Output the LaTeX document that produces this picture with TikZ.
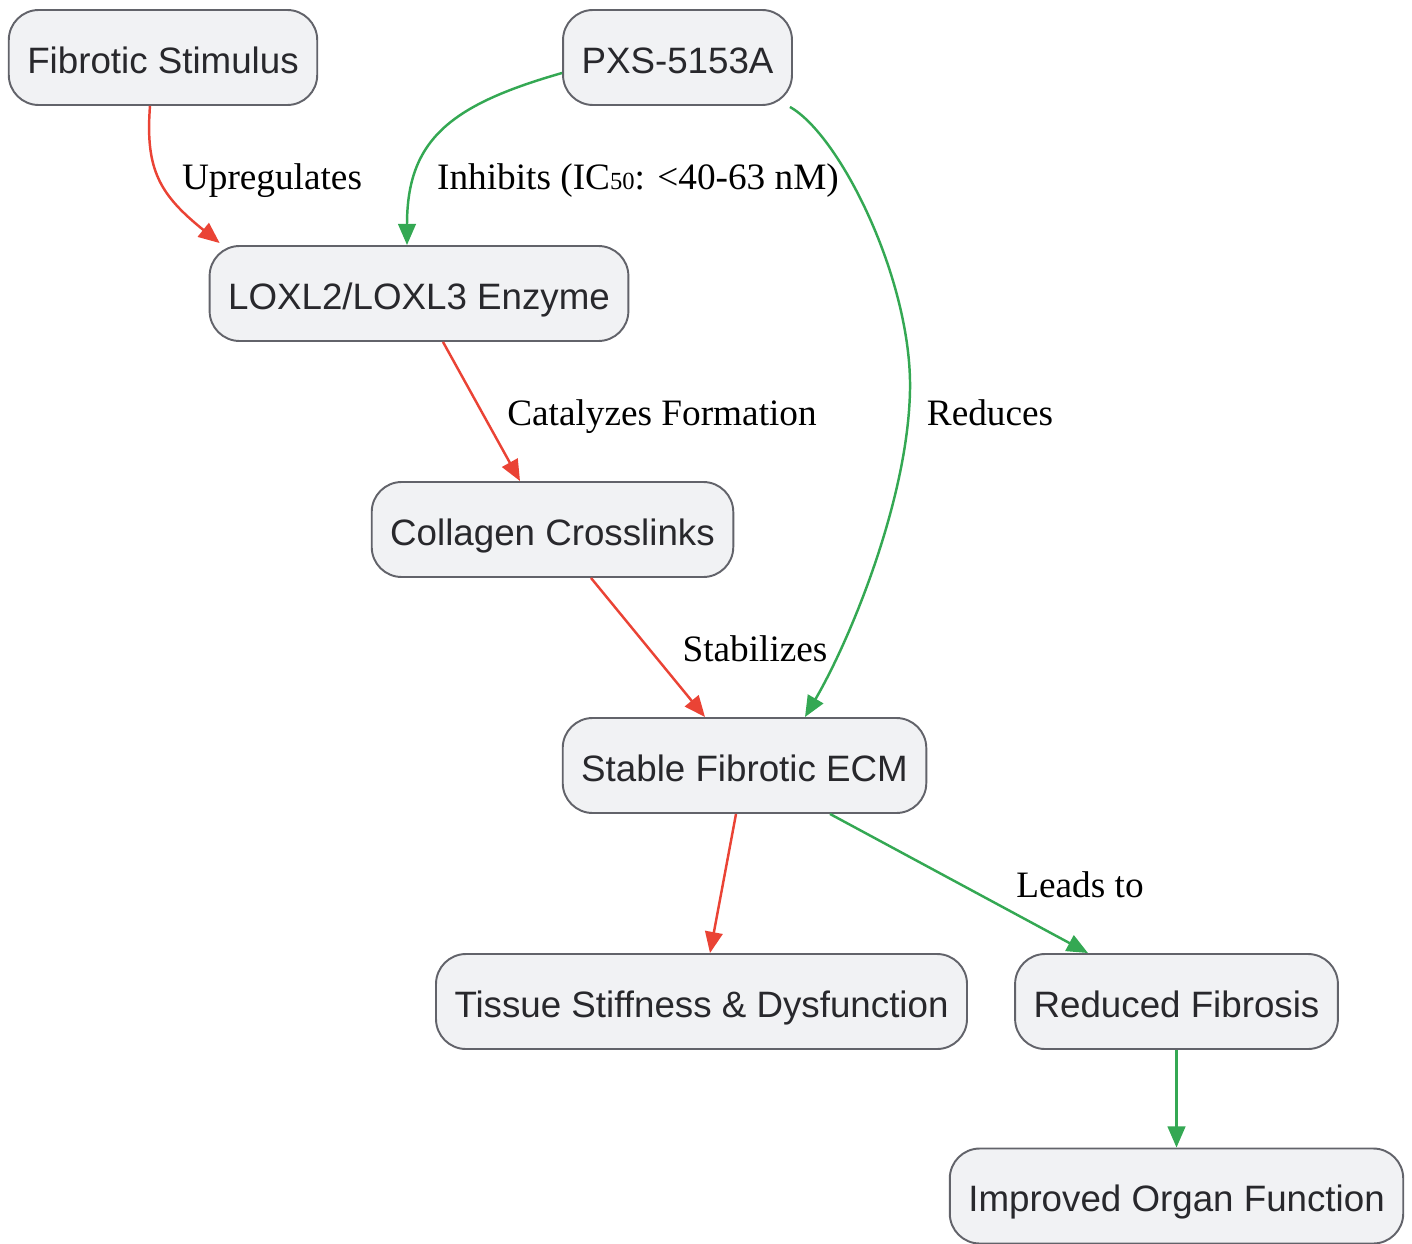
\documentclass[tikz,border=0pt]{standalone}
\usepackage{fontspec}
\setmainfont{Liberation Serif}
\newfontfamily\boxfont{Liberation Sans}
\usepackage{tikz}
\usetikzlibrary{arrows.meta,positioning,calc}
\definecolor{boxFill}{RGB}{241,242,244}
\definecolor{boxLine}{RGB}{98,99,106}
\definecolor{boxText}{RGB}{40,40,44}
\definecolor{upC}{RGB}{234,67,53}
\definecolor{downC}{RGB}{52,168,83}
\tikzset{
    box/.style   = {draw=boxLine, line width=1.1pt, fill=boxFill,
            rounded corners=0.6cm, minimum height=1.9cm,
            inner xsep=0.37cm, align=center, text=boxText,
            text height=21pt, text depth=3pt,
            font=\boxfont\fontsize{20.9}{25}\selectfont},
    edgeLabel/.style = {inner sep=0pt, text=black,
            text height=14pt, text depth=0pt,
            font=\fontsize{21.2}{25}\selectfont},
    upArrow/.style   = {-{Triangle[length=12pt,width=10pt]}, line width=1.4pt, draw=upC},
    downArrow/.style = {-{Triangle[length=12pt,width=10pt]}, line width=1.4pt, draw=downC},
}
\newcommand{\sub}[1]{{\fontsize{14}{14}\selectfont #1}}
\begin{document}
\begin{tikzpicture}
    \useasboundingbox (0,0) rectangle (28.24,-24.86);

    % boxes
    \node[box] (fibStim)  at (3.26,-1.15)   {Fibrotic Stimulus};
    \node[box] (pxs)      at (13.55,-1.15)  {PXS-5153A};
    \node[box] (loxl)     at (8.38,-5.87)   {LOXL2/LOXL3 Enzyme};
    \node[box] (collagen) at (11.05,-10.59) {Collagen Crosslinks};
    \node[box] (ecm)      at (14.89,-15.31) {Stable Fibrotic ECM};
    \node[box] (tissue)   at (14.03,-20.03) {Tissue Stiffness \& Dysfunction};
    \node[box] (reduced)  at (23.53,-20.03) {Reduced Fibrosis};
    \node[box] (improved) at (23.53,-23.92) {Improved Organ Function};

    % connectors
    \draw[upArrow] ($(fibStim.south)+(-0.26,0)$)
        .. controls (2.90,-3.40) and (3.20,-3.90) .. ($(loxl.north west)+(0.22,0.04)$);
    \draw[downArrow] ($(pxs.west)+(0,-0.31)$)
        .. controls (9.00,-2.10) and (8.14,-2.80) .. ($(loxl.north)+(-0.24,0)$);
    \draw[downArrow] ($(pxs.south east)+(-0.06,-0.02)$)
        .. controls (16.80,-2.70) and (18.24,-5.60) .. (18.20,-7.80)
        .. controls (18.16,-10.00) and (17.00,-12.80) .. ($(ecm.north)+(1.21,0)$);
    \draw[upArrow] ($(loxl.south)+(0.48,0)$) -- ($(collagen.north)+(-0.65,0)$);
    \draw[upArrow] ($(collagen.south)+(0.77,0)$) -- ($(ecm.north)+(-0.79,0)$);
    \draw[upArrow] ($(ecm.south)+(-0.17,0)$) -- ($(tissue.north)+(0.17,0)$);
    \draw[downArrow] ($(ecm.south)+(1.71,0)$) -- ($(reduced.north)+(-1.77,0)$);
    \draw[downArrow] (reduced.south) -- (improved.north);

    % labels
    \node[edgeLabel] (lblUp)    at (5.44,-3.54)  {Upregulates};
    \node[edgeLabel] (lblInh)   at (12.76,-3.54) {Inhibits (IC\sub{50}: <40-63 nM)};
    \node[edgeLabel] (lblCat)   at (13.24,-8.26) {Catalyzes Formation};
    \node[edgeLabel] (lblRed)   at (19.80,-8.26) {Reduces};
    \node[edgeLabel] (lblStab)  at (15.10,-12.98) {Stabilizes};
    \node[edgeLabel] (lblLeads) at (21.60,-17.70) {Leads to};
\end{tikzpicture}
\end{document}
